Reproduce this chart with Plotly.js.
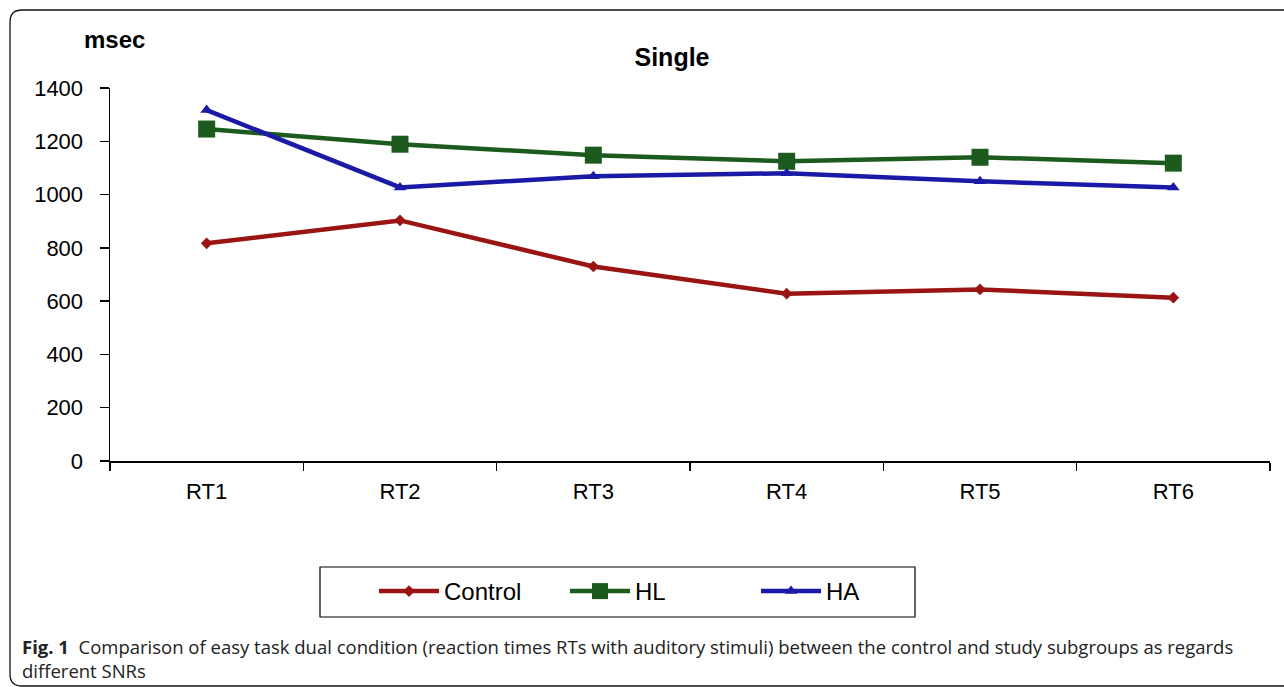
<!DOCTYPE html>
<html>
<head>
<meta charset="utf-8">
<script src="https://cdn.plot.ly/plotly-3.0.1.min.js"></script>
<style>html,body{margin:0;padding:0;background:#fff;}#chart{width:1284px;height:687px;}</style>
</head>
<body>
<div id="chart"></div>
<script>
const categories = ["RT1", "RT2", "RT3", "RT4", "RT5", "RT6"];
const controlValues = [817, 903, 730, 628, 644, 613];
const hlValues = [1246, 1189, 1148, 1125, 1140, 1118];
const haValues = [1317, 1027, 1069, 1080, 1050, 1027];
const seriesNames = ["Control", "HL", "HA"];
const yTicks = [0, 200, 400, 600, 800, 1000, 1200, 1400];

const W = 1284, H = 687;
const L = 110, R = 14, T = 88, B = 226;
const pw = W - L - R, ph = H - T - B;
const px = x => (x - L) / pw;
const py = y => (H - B - y) / ph;

const traces = [
  {x: categories, y: controlValues, name: seriesNames[0], type: "scatter", mode: "lines+markers",
   line: {color: "#9a1414", width: 4.5}, marker: {symbol: "diamond", size: 9, color: "#9a1414"}},
  {x: categories, y: hlValues, name: seriesNames[1], type: "scatter", mode: "lines+markers",
   line: {color: "#1d5a1d", width: 4.5}, marker: {symbol: "square", size: 17, color: "#1d5a1d"}},
  {x: categories, y: haValues, name: seriesNames[2], type: "scatter", mode: "lines+markers",
   line: {color: "#1a1aa6", width: 4.5}, marker: {symbol: "triangle-up", size: 11, color: "#1a1aa6"}}
];

const rr = 12;
const fx0 = 10, fy0 = 10, fy1 = 686;
const framePath = `M ${px(W+5)} ${py(fy0)} L ${px(fx0+rr)} ${py(fy0)} Q ${px(fx0)} ${py(fy0)} ${px(fx0)} ${py(fy0+rr)} L ${px(fx0)} ${py(fy1-rr)} Q ${px(fx0)} ${py(fy1)} ${px(fx0+rr)} ${py(fy1)} L ${px(W+5)} ${py(fy1)}`;

const layout = {
  width: W, height: H,
  margin: {l: L, r: R, t: T, b: B},
  paper_bgcolor: "#ffffff", plot_bgcolor: "#ffffff",
  font: {family: "Liberation Sans, Arial, sans-serif", color: "#000", size: 22},
  showlegend: true,
  title: {text: "<b>Single</b>", x: px(672), xref: "paper", xanchor: "center", y: 1 - 57 / H, yanchor: "middle",
          font: {size: 25, family: "Liberation Sans, Arial, sans-serif", color: "#000"}},
  xaxis: {type: "category", range: [-0.5, 5.5], showgrid: false, zeroline: false,
          showline: true, linecolor: "#000", linewidth: 1.5,
          ticks: "outside", ticklen: 8, tickcolor: "#000", tickwidth: 1.5, tickson: "boundaries",
          ticklabelstandoff: 10, tickfont: {size: 22}, fixedrange: true},
  yaxis: {range: [0, 1400], tickvals: yTicks, showgrid: false, zeroline: false,
          showline: true, linecolor: "#000", linewidth: 1.5,
          ticks: "outside", ticklen: 9, tickcolor: "#000", tickwidth: 1.5,
          ticklabelstandoff: 12, tickfont: {size: 22}, fixedrange: true},
  legend: {orientation: "h", x: px(374), xanchor: "left", y: py(569), yanchor: "top",
           borderwidth: 0, bgcolor: "rgba(0,0,0,0)",
           font: {size: 24, color: "#000"}, itemwidth: 60, entrywidth: 116, traceorder: "normal"},
  shapes: [
    {type: "path", xref: "paper", yref: "paper", path: framePath, line: {color: "#111", width: 1.3}, layer: "below"},
    {type: "rect", xref: "paper", yref: "paper", x0: px(320), x1: px(915), y0: py(567), y1: py(617),
     line: {color: "#000", width: 1.2}, fillcolor: "rgba(0,0,0,0)", layer: "below"}
  ],
  annotations: [
    {text: "<b>msec</b>", xref: "paper", yref: "paper", x: px(114), y: py(40), xanchor: "center", yanchor: "middle",
     showarrow: false, font: {size: 24, color: "#000"}},
    {text: "<b>Fig. 1</b>  Comparison of easy task dual condition (reaction times RTs with auditory stimuli) between the control and study subgroups as regards<br>different SNRs",
     xref: "paper", yref: "paper", x: px(20), y: py(632), xanchor: "left", yanchor: "top", align: "left",
     showarrow: false, font: {size: 18.5, color: "#222", family: "Open Sans, Noto Sans, sans-serif"}}
  ]
};

Plotly.newPlot("chart", traces, layout, {displayModeBar: false, staticPlot: true});
</script>
</body>
</html>
